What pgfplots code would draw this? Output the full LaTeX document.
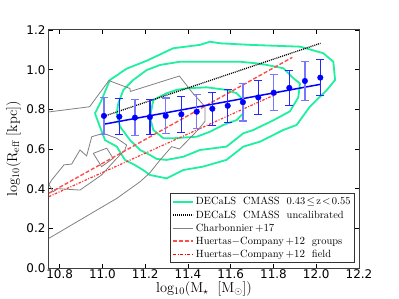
\documentclass[border=0pt]{standalone}
\usepackage{fontspec}
\usepackage{pgfplots}
\usepackage{pgfplotstable}
\pgfplotsset{compat=1.18}
\newfontfamily\tickfont{DejaVu Sans}
\definecolor{cgreen}{RGB}{30,240,160}
\definecolor{lblue}{RGB}{120,120,255}
\pgfplotstableread{
x y e
11.007 0.767 0.092
11.152 0.758 0.090
11.296 0.767 0.090
11.441 0.788 0.086
11.657 0.836 0.095
11.801 0.884 0.090
11.947 0.943 0.100
}\lightpts
\pgfplotstableread{
x y e
11.079 0.763 0.092
11.222 0.761 0.088
11.369 0.775 0.090
11.514 0.803 0.083
11.586 0.818 0.084
11.729 0.860 0.084
11.874 0.908 0.088
12.019 0.960 0.090
}\darkpts
\begin{document}
\begin{tikzpicture}
\begin{axis}[
  scale only axis, width=310bp, height=238bp,
  xmin=10.75, xmax=12.2, ymin=0, ymax=1.2,
  xtick={10.8,11.0,11.2,11.4,11.6,11.8,12.0,12.2},
  ytick={0,0.2,0.4,0.6,0.8,1.0,1.2},
  tick align=inside, major tick length=4bp,
  ticklabel style={font=\tickfont\fontsize{12}{13}\selectfont},
  xticklabel style={inner sep=1.5bp, /pgf/number format/.cd,fixed,fixed zerofill,precision=1,assume math mode=true},
  yticklabel style={/pgf/number format/.cd,fixed,fixed zerofill,precision=1,assume math mode=true},
  axis line style={black!75, line width=1bp},
  every tick/.style={black, line width=0.6bp},
  xlabel={$\mathrm{log_{10}(M_\star\;\ [M_\odot])}$},
  ylabel={$\mathrm{log_{10}(R_{eff}\ [kpc])}$},
  label style={font=\fontsize{14.5}{16}\selectfont},
  xlabel style={inner sep=0pt, yshift=-1bp},
  ylabel style={yshift=-1bp},
  legend style={at={(0.987,0.021)}, anchor=south east, draw=black!80, line width=0.7bp,
    font=\fontsize{10.5}{12}\selectfont, cells={anchor=west}, row sep=0.2bp, inner sep=2bp},
  legend image code/.code={\draw[#1] (0bp,0bp) -- (20bp,0bp);},
]
\addlegendimage{cgreen, line width=1.8bp}
\addlegendentry{DECaLS\ \ CMASS\ \ $\mathrm{0.43\!\leq\! z\!<\!0.55}$}
\addlegendimage{black, line width=1.3bp, dash pattern=on 1bp off 1bp}
\addlegendentry{DECaLS\ \ CMASS\ \ uncalibrated}
\addlegendimage{gray, line width=0.8bp}
\addlegendentry{Charbonnier$\,+17$}
\addlegendimage{red!70, line width=1.4bp, dash pattern=on 4bp off 2bp}
\addlegendentry{Huertas$-$Company$\,+12$\ \ groups}
\addlegendimage{red, line width=1.2bp, dash pattern=on 3bp off 1.5bp on 1bp off 1.5bp}
\addlegendentry{Huertas$-$Company$\,+12$\ \ field}

% green contours
\addplot[forget plot, cgreen, line width=1.8bp] coordinates {
(10.965,0.78) (10.989,0.83) (11.035,0.948) (11.113,1.005) (11.207,1.045) (11.331,1.108)
(11.456,1.125) (11.503,1.141) (11.55,1.133) (11.69,1.125) (11.924,1.116) (12.033,1.083)
(12.08,1.04) (12.088,0.948) (12.05,0.898) (11.97,0.813) (11.908,0.721) (11.846,0.696)
(11.737,0.637) (11.659,0.612) (11.58,0.545) (11.47,0.511) (11.378,0.494) (11.30,0.452)
(11.222,0.469) (11.19,0.494) (11.152,0.519) (11.105,0.545) (11.067,0.612) (11.012,0.645)
(10.989,0.71) (10.965,0.78)};
\addplot[forget plot, cgreen, line width=1.8bp] coordinates {
(11.067,0.78) (11.074,0.83) (11.098,0.898) (11.144,0.948) (11.207,0.998) (11.27,1.024)
(11.363,1.04) (11.456,1.04) (11.643,1.04) (11.72,1.032) (11.768,1.024) (11.846,1.007)
(11.893,0.957) (11.924,0.93) (11.916,0.86) (11.877,0.79) (11.80,0.745) (11.706,0.696)
(11.659,0.679) (11.58,0.612) (11.456,0.595) (11.378,0.561) (11.30,0.545) (11.254,0.55)
(11.222,0.57) (11.176,0.595) (11.129,0.645) (11.082,0.713) (11.067,0.78)};
\addplot[forget plot, cgreen, line width=1.8bp] coordinates {
(11.222,0.76) (11.238,0.847) (11.30,0.881) (11.347,0.898) (11.394,0.906) (11.488,0.911)
(11.58,0.898) (11.628,0.881) (11.659,0.847) (11.659,0.78) (11.628,0.746) (11.565,0.721)
(11.503,0.687) (11.441,0.662) (11.331,0.654) (11.285,0.654) (11.238,0.696) (11.222,0.76)};

% Charbonnier+17 gray contours
\addplot[forget plot, gray, line width=0.8bp] coordinates {
(10.75,0.787) (10.94,0.813) (11.03,0.945) (11.129,0.905) (11.13,0.89) (11.36,0.968)
(11.42,0.885) (11.48,0.813) (11.48,0.74) (11.45,0.70) (11.378,0.62) (11.36,0.6)
(11.324,0.612) (11.27,0.545) (11.22,0.478) (11.176,0.435) (11.067,0.351) (10.75,0.15)};
\addplot[forget plot, gray, line width=0.8bp] coordinates {
(10.75,0.42) (10.76,0.44) (10.79,0.48) (10.82,0.52) (10.856,0.524) (10.895,0.595)
(10.926,0.565) (10.95,0.662) (11.004,0.679) (11.067,0.654) (11.113,0.62) (11.105,0.595)
(11.06,0.545) (10.996,0.469) (10.895,0.393) (10.79,0.40) (10.77,0.385) (10.75,0.42)};
\addplot[forget plot, gray, line width=0.8bp] coordinates {
(10.957,0.578) (11.02,0.604) (11.05,0.553) (10.996,0.511) (10.957,0.578)};

% Huertas-Company lines
\addplot[forget plot, red!70, line width=1.4bp, dash pattern=on 4bp off 2bp] coordinates {(10.75,0.377) (11.888,1.062)};
\addplot[forget plot, red!80, line width=1.2bp, dash pattern=on 2.5bp off 1.5bp on 1bp off 1.5bp] coordinates {(10.75,0.36) (11.82,0.88)};

% uncalibrated
\addplot[forget plot, black, line width=1.3bp, dash pattern=on 1bp off 1bp] coordinates {(11.007,0.765) (12.02,1.133)};
% fit
\addplot[forget plot, blue, line width=1.5bp] coordinates {(11.007,0.725) (12.019,0.926)};

% points with error bars
\addplot[forget plot, only marks, mark=*, mark size=2.8bp, mark options={blue, fill=blue},
  error bars/.cd, y dir=both, y explicit, error mark=|,
  error bar style={lblue, line width=1.4bp, solid},
  error mark options={lblue, line width=1.1bp, mark size=4bp, solid}]
  table[x=x, y=y, y error=e] {\lightpts};
\addplot[forget plot, only marks, mark=*, mark size=2.8bp, mark options={blue, fill=blue},
  error bars/.cd, y dir=both, y explicit, error mark=|,
  error bar style={blue!85, line width=1.4bp, solid},
  error mark options={blue!85, line width=1.1bp, mark size=4bp, solid}]
  table[x=x, y=y, y error=e] {\darkpts};
\end{axis}
\pgfresetboundingbox
\path (-49bp,-31bp) rectangle (350bp,268bp);
\end{tikzpicture}
\end{document}
